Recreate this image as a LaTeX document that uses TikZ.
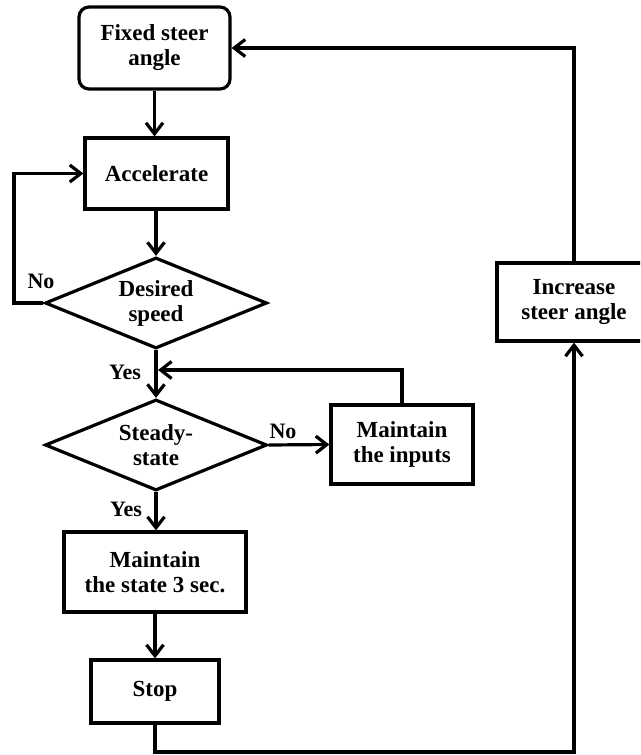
\documentclass[tikz,border=0pt]{standalone}
\usepackage{fontspec}
\setmainfont{Liberation Serif}
\usetikzlibrary{shapes.geometric,arrows.meta}
\begin{document}
\begin{tikzpicture}[x=1pt,y=-1pt,
  line width=3.2pt, line join=miter,
  every node/.style={font=\fontsize{23}{25}\selectfont\bfseries, align=center, inner sep=0pt},
  box/.style={draw, rectangle, minimum width=#1},
  decision/.style={draw, diamond, aspect=2.47, minimum width=222pt, minimum height=91pt},
  arr/.style={-{Straight Barb[length=11pt,width=17pt]}},
  lbl/.style={font=\fontsize{22}{24}\selectfont\bfseries}
]
\useasboundingbox (0,0) rectangle (640,755);
\clip (0,0) rectangle (640,755);

% process steps
\node[box=151pt, minimum height=82pt, rounded corners=10pt] (fixed) at (154.5,48) {Fixed steer\\angle};
\node[box=143pt, minimum height=71pt] (acc) at (156.5,173.5) {Accelerate};
\node[decision] (desired) at (156,303) {Desired\\speed};
\node[decision] (steady) at (156,445) {Steady-\\state};
\node[box=142pt, minimum height=79pt] (inputs) at (402,444.5) {Maintain\\the inputs};
\node[box=182pt, minimum height=80pt] (mstate) at (155,572) {Maintain\\the state 3 sec.};
\node[box=128pt, minimum height=63pt] (stop) at (155,691.5) {Stop};
\node[box=154pt, minimum height=78pt] (incr) at (574,302) {Increase\\steer angle};

% routing points
\coordinate (nol) at (14,303);
\coordinate (fb) at (158,370);
\coordinate (bot) at (574,752);

% main flow
\draw[arr] (fixed.south) -- (fixed.south |- acc.north);
\draw[arr] (acc.south -| desired.north) -- (desired.north);
\draw[arr] (desired.south) -- (steady.north);
\draw[arr] (steady.east) -- (inputs.west);
\draw[arr] (steady.south) -- (steady.south |- mstate.north);
\draw[arr] (mstate.south) -- (stop.north);

% loops
\draw[arr] (desired.west) -- (nol) |- (acc.west);
\draw[arr] (inputs.north) |- (fb);
\draw[arr] (stop.south) |- (bot) -- (incr.south);
\draw[arr] (incr.north) |- (fixed.east);

% branch labels
\node[lbl] (no1) at (41,281) {No};
\node[lbl] (yes1) at (125,372) {Yes};
\node[lbl] (no2) at (283,431) {No};
\node[lbl] (yes2) at (126,509) {Yes};
\end{tikzpicture}
\end{document}
